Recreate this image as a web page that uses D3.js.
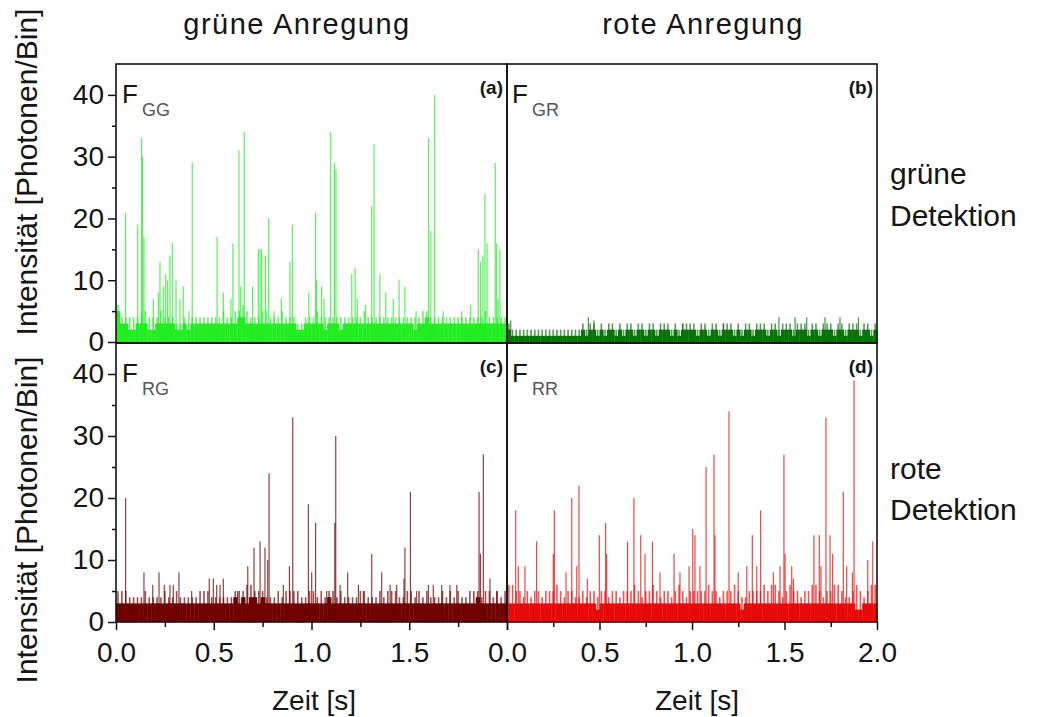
<!DOCTYPE html>
<html>
<head>
<meta charset="utf-8">
<script src="https://cdn.jsdelivr.net/npm/d3@7"></script>
<style>
  body { margin: 0; background: #fff; }
  svg { display: block; font-family: "Liberation Sans", Arial, sans-serif; }
</style>
</head>
<body>
<div id="chart"></div>
<script>
// Time traces, 2 s each. base/peak: one value per 20 ms bin, spikes: [time s, photons]
const binWidth = 0.02;

const baseGG = [5,3,3,2,2,3,3,3,2,2, 3,3,3,3,3,2,2,3,2,3, 3,3,3,3,3,3,3,3,3,3, 3,4,4,3,3,3,3,3,3,3,
                3,3,3,3,3,3,2,2,3,3, 3,3,3,2,3,3,3,2,3,3, 3,3,3,3,3,3,3,3,3,3, 3,3,3,3,3,3,2,3,3,4,
                3,3,3,3,3,3,3,3,3,3, 3,3,3,3,3,3,3,3,3,3];
const peakGG = [6,4,4,4,4,4,5,5,4,4, 4,5,4,4,4,3,3,4,3,4, 4,4,4,4,4,4,4,5,4,4, 5,5,6,5,4,4,4,5,5,4,
                4,4,5,4,4,4,3,3,4,4, 4,5,4,4,4,4,4,4,4,4, 4,4,4,5,4,4,4,4,4,4, 4,4,4,4,4,4,4,4,5,5,
                4,4,4,4,4,4,4,4,4,4, 4,4,4,4,5,4,4,4,4,4];
const spikesGG = [[0.049,21],[0.111,19],[0.131,33],[0.136,30],[0.143,17],[0.191,7],[0.217,8],[0.225,13],
  [0.242,9],[0.254,11],[0.264,10],[0.276,14],[0.288,16],[0.307,10],[0.327,7],[0.344,9],[0.373,5],[0.390,29],
  [0.517,17],[0.549,8],[0.588,7],[0.598,16],[0.629,31],[0.638,9],[0.656,34],[0.699,9],[0.728,15],[0.737,15],
  [0.745,15],[0.764,14],[0.781,20],[0.808,5],[0.846,7],[0.890,13],[0.902,19],[0.986,8],[1.021,21],[1.026,10],
  [1.052,9],[1.064,7],[1.098,34],[1.117,29],[1.125,28],[1.206,11],[1.223,12],[1.234,7],[1.277,6],[1.308,22],
  [1.320,32],[1.350,11],[1.380,8],[1.418,7],[1.448,10],[1.478,9],[1.535,5],[1.599,33],[1.610,18],[1.630,40],
  [1.674,5],[1.768,5],[1.814,6],[1.853,15],[1.865,13],[1.877,14],[1.887,24],[1.898,16],[1.940,29],[1.947,16],
  [1.955,7],[1.964,15]];

const baseGR = [2,1,1,1,1,1,1,1,1,1, 1,1,1,1,1,1,1,1,1,1, 2,1,2,2,1,2,1,2,2,1, 2,1,2,2,1,2,2,1,2,2,
                1,2,2,2,1,2,1,2,2,2, 2,1,2,2,1,2,2,1,2,2, 2,1,2,1,2,2,1,2,2,2, 1,2,2,1,2,2,2,1,2,2,
                2,1,2,2,1,2,2,2,1,2, 2,1,2,2,2,1,2,2,1,2];
const peakGR = [3,2,2,2,2,2,2,2,2,2, 2,2,2,2,2,2,2,2,2,2, 3,2,3,3,2,3,2,3,3,2, 3,2,3,3,2,3,3,2,3,3,
                2,3,3,3,2,3,2,3,3,3, 3,2,3,3,2,3,3,2,3,3, 3,2,3,2,3,3,2,3,3,3, 2,3,3,2,3,3,3,2,3,3,
                3,2,3,3,2,3,3,3,2,3, 3,2,3,3,3,2,3,3,2,3];
const spikesGR = [[0.02,3.5],[0.44,4],[0.47,3.5],[0.95,3],[1.17,3],[1.47,4],[1.557,4],[1.62,4],[1.719,4],
  [1.8,4],[1.9,4]];

const baseRG = [3,3,3,3,3,3,3,3,3,3, 3,3,3,3,3,3,3,3,3,3, 3,3,3,3,3,3,3,3,3,3, 4,3,4,3,4,4,3,4,3,3,
                3,3,3,3,3,3,3,3,3,3, 3,3,3,3,4,3,3,3,3,3, 3,3,3,3,3,3,3,3,3,3, 3,3,3,3,3,3,3,3,3,3,
                3,3,3,3,3,3,3,3,3,3, 3,3,4,3,3,3,3,3,3,3];
const peakRG = [5,5,5,4,4,4,4,5,4,4, 4,4,5,4,4,5,4,4,4,4, 4,5,5,5,4,4,4,4,4,4, 5,5,5,6,6,5,5,5,4,4,
                4,5,4,5,5,5,5,4,4,5, 5,4,5,4,5,5,4,5,4,4, 4,4,5,5,4,4,4,5,4,5, 5,5,4,4,5,5,4,5,4,5,
                4,4,4,5,4,5,4,5,4,4, 5,5,5,4,5,5,4,5,4,5];
const spikesRG = [[0.049,20],[0.143,8],[0.188,6],[0.220,8],[0.247,6],[0.276,6],[0.293,6],[0.322,8],[0.387,5],
  [0.477,7],[0.498,7],[0.515,6],[0.532,6],[0.549,7],[0.622,5],[0.674,9],[0.706,12],[0.737,13],[0.762,12],
  [0.776,10],[0.783,24],[0.856,6],[0.887,9],[0.904,33],[0.984,19],[1.001,8],[1.021,16],[1.078,5],[1.119,16],
  [1.124,30],[1.146,6],[1.185,8],[1.240,6],[1.265,5],[1.308,11],[1.359,8],[1.402,6],[1.436,6],[1.473,7],
  [1.478,12],[1.506,21],[1.538,5],[1.598,6],[1.623,6],[1.666,6],[1.708,6],[1.743,6],[1.857,21],[1.864,11],
  [1.879,27],[1.913,7],[1.947,5]];

const baseRR = [3,3,3,3,3,3,3,3,3,3, 3,3,3,3,3,3,3,3,3,3, 3,3,3,3,2,3,3,3,3,3, 3,3,3,3,3,3,3,3,3,3,
                3,3,3,3,3,3,3,3,3,3, 3,3,3,3,3,3,3,3,3,3, 3,3,3,2,3,3,3,3,3,3, 3,3,3,3,3,3,3,3,3,3,
                3,3,3,3,3,3,3,3,3,3, 3,3,3,3,2,2,3,3,3,3];
const peakRR = [6,6,5,5,4,5,4,5,5,4, 5,5,5,6,5,4,5,5,4,4, 5,4,5,5,4,5,5,4,5,5, 4,5,5,5,6,5,4,5,5,6,
                5,4,5,5,4,5,6,5,4,5, 5,5,5,5,6,5,5,4,5,5, 5,6,5,4,4,5,5,5,5,6, 5,6,6,5,4,5,6,5,5,4,
                5,5,6,6,5,4,5,5,6,6, 5,4,4,5,6,5,4,5,6,6];
const spikesRR = [[0.047,18],[0.061,9],[0.097,9],[0.160,13],[0.250,11],[0.256,18],[0.319,8],[0.350,20],
  [0.377,9],[0.389,22],[0.434,7],[0.499,14],[0.533,16],[0.539,11],[0.652,13],[0.686,20],[0.723,14],[0.746,11],
  [0.786,13],[0.827,8],[0.903,11],[0.935,8],[0.984,9],[1.004,15],[1.016,14],[1.043,9],[1.076,25],[1.119,27],
  [1.124,14],[1.200,34],[1.250,8],[1.296,9],[1.326,14],[1.350,9],[1.371,18],[1.440,8],[1.476,9],[1.497,27],
  [1.503,11],[1.539,9],[1.548,7],[1.659,14],[1.688,14],[1.697,9],[1.724,33],[1.746,14],[1.760,11],[1.818,21],
  [1.836,9],[1.867,8],[1.876,39],[1.950,10],[1.977,13]];

const yMajor = [0, 10, 20, 30, 40];
const yMinor = [5, 15, 25, 35];
const xMajor = [0, 0.5, 1, 1.5, 2];
const xMinor = [0.25, 0.75, 1.25, 1.75];

const width = 1052, height = 717;
const textColor = "#151515";

const svg = d3.select("#chart").append("svg")
    .attr("width", width)
    .attr("height", height);

const colX = { left: [116, 507], right: [507, 877] };
const rowY = { top: [64, 342], bottom: [343, 622] };

const panels = [
  { tag: "(a)", sub: "GG", col: "left",  row: "top",    color: "#22ee22", base: baseGG, peak: peakGG, spikes: spikesGG },
  { tag: "(b)", sub: "GR", col: "right", row: "top",    color: "#0a720a", base: baseGR, peak: peakGR, spikes: spikesGR },
  { tag: "(c)", sub: "RG", col: "left",  row: "bottom", color: "#700000", base: baseRG, peak: peakRG, spikes: spikesRG },
  { tag: "(d)", sub: "RR", col: "right", row: "bottom", color: "#e80a0a", base: baseRR, peak: peakRR, spikes: spikesRR }
];

panels.forEach(p => {
  const [xl, xr] = colX[p.col];
  const [yt, yb] = rowY[p.row];
  const x = d3.scaleLinear().domain([0, 2]).range([xl, xr]);
  const y = d3.scaleLinear().domain([0, 45]).range([yb, yt]);
  const g = svg.append("g");

  // solid background level
  g.selectAll("rect.base").data(p.base).join("rect")
      .attr("class", "base")
      .attr("x", (d, i) => x(i * binWidth))
      .attr("width", x(binWidth) - x(0) + 0.4)
      .attr("y", d => y(d))
      .attr("height", d => y(0) - y(d))
      .attr("fill", p.color);

  // small fluctuations
  g.selectAll("rect.peak").data(p.peak).join("rect")
      .attr("class", "peak")
      .attr("x", (d, i) => x((i + 0.5) * binWidth) - 0.8)
      .attr("width", 1.6)
      .attr("y", d => y(d))
      .attr("height", d => y(0) - y(d))
      .attr("fill", p.color)
      .attr("fill-opacity", 0.7);

  // bursts
  g.selectAll("rect.spike").data(p.spikes).join("rect")
      .attr("class", "spike")
      .attr("x", d => x(d[0]) - 0.6)
      .attr("width", 1.2)
      .attr("y", d => y(d[1]))
      .attr("height", d => y(0) - y(d[1]))
      .attr("fill", p.color)
      .attr("fill-opacity", 0.75);

  // frame
  g.append("rect")
      .attr("x", xl).attr("y", yt)
      .attr("width", xr - xl).attr("height", yb - yt + (p.row === "top" ? 1 : 0))
      .attr("fill", "none")
      .attr("stroke", "#111")
      .attr("stroke-width", 1.6);

  if (p.col === "left") {
    const ax = g.append("g").attr("transform", `translate(${xl},0)`)
        .call(d3.axisLeft(y).tickValues(yMajor).tickSize(8).tickPadding(4));
    ax.select(".domain").remove();
    ax.selectAll("text").attr("font-size", 28).attr("fill", textColor).attr("font-family", null);
    ax.selectAll("line").attr("stroke", "#111").attr("stroke-width", 1.5);
    const axm = g.append("g").attr("transform", `translate(${xl},0)`)
        .call(d3.axisLeft(y).tickValues(yMinor).tickSize(4).tickFormat(""));
    axm.select(".domain").remove();
    axm.selectAll("line").attr("stroke", "#111").attr("stroke-width", 1.5);
  }

  if (p.row === "bottom") {
    const fmt = d3.format(".1f");
    const bx = g.append("g").attr("transform", `translate(0,${yb})`)
        .call(d3.axisBottom(x).tickValues(xMajor).tickSize(8).tickPadding(12)
          .tickFormat(d => (p.col === "left" && d === 2) ? "" : fmt(d)));
    bx.select(".domain").remove();
    bx.selectAll("text").attr("font-size", 28).attr("fill", textColor).attr("font-family", null);
    bx.selectAll("line").attr("stroke", "#111").attr("stroke-width", 1.5);
    const bxm = g.append("g").attr("transform", `translate(0,${yb})`)
        .call(d3.axisBottom(x).tickValues(xMinor).tickSize(5).tickFormat(""));
    bxm.select(".domain").remove();
    bxm.selectAll("line").attr("stroke", "#111").attr("stroke-width", 1.5);

    svg.append("text")
        .attr("x", p.col === "left" ? 314 : 697).attr("y", 710)
        .attr("text-anchor", "middle")
        .attr("font-size", 28)
        .attr("fill", textColor)
        .text("Zeit [s]");
  }

  // F label with subscript
  const fx = p.col === "left" ? xl + 6 : xl + 5;
  g.append("text")
      .attr("x", fx).attr("y", yt + 39)
      .attr("font-size", 26).attr("fill", textColor)
      .text("F");
  g.append("text")
      .attr("x", fx + 20).attr("y", yt + 52)
      .attr("font-size", 18).attr("fill", "#555")
      .text(p.sub);

  g.append("text")
      .attr("x", xr - 4).attr("y", yt + 30)
      .attr("text-anchor", "end")
      .attr("font-size", 19).attr("font-weight", "bold")
      .attr("fill", textColor)
      .text(p.tag);
});

// y axis titles
[[172], [520]].forEach(([cy]) => {
  svg.append("text")
      .attr("transform", `translate(37,${cy}) rotate(-90)`)
      .attr("text-anchor", "middle")
      .attr("font-size", 30)
      .attr("fill", textColor)
      .text("Intensität [Photonen/Bin]");
});

// column titles
svg.append("text").attr("x", 297).attr("y", 34).attr("text-anchor", "middle")
    .attr("font-size", 29).attr("letter-spacing", 1.5).attr("fill", textColor).text("grüne Anregung");
svg.append("text").attr("x", 703).attr("y", 34).attr("text-anchor", "middle")
    .attr("font-size", 29).attr("letter-spacing", 1.5).attr("fill", textColor).text("rote Anregung");

// row titles
const rowLabels = [["grüne", 184], ["Detektion", 226], ["rote", 479], ["Detektion", 520]];
rowLabels.forEach(([t, yy]) => {
  svg.append("text").attr("x", 890).attr("y", yy)
      .attr("font-size", 30).attr("fill", textColor).text(t);
});
</script>
</body>
</html>
